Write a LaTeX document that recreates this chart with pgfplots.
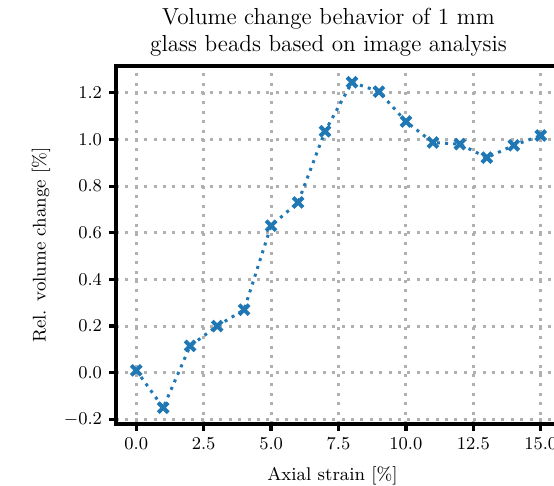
\documentclass[border=0pt]{standalone}
\usepackage{pgfplots}
\pgfplotsset{compat=1.18}
\definecolor{mplblue}{RGB}{31,119,180}
\definecolor{gridgray}{RGB}{176,176,176}
\begin{document}
\begin{tikzpicture}
\begin{axis}[
  scale only axis, width=222.5pt, height=179pt,
  xmin=-0.75, xmax=15.75, ymin=-0.22, ymax=1.315,
  xtick={0,2.5,5,7.5,10,12.5,15},
  ytick={-0.2,0,0.2,0.4,0.6,0.8,1.0,1.2},
  xticklabel style={/pgf/number format/.cd,fixed,fixed zerofill,precision=1},
  yticklabel style={/pgf/number format/.cd,fixed,fixed zerofill,precision=1},
  tick label style={font=\fontsize{9.2}{11}\selectfont},
  label style={font=\fontsize{9.2}{11}\selectfont},
  title style={font=\fontsize{11.6}{13.2}\selectfont, align=center, xshift=-5pt, yshift=-4.5pt},
  title={Volume change behavior of 1 mm\\glass beads based on image analysis},
  xlabel={Axial strain [\%]},
  xlabel style={xshift=-3pt, yshift=-1.5pt},
  ylabel={Rel. volume change [\%]},
  axis line style={line width=2pt, black},
  tick style={line width=1.6pt, black},
  tick align=outside, tick pos=left, major tick length=3.5pt,
  grid=major,
  major grid style={line width=1.5pt, gridgray, dash pattern=on 1.5pt off 3.2pt},
]
\addplot[mplblue, line width=1.5pt, dash pattern=on 1.5pt off 2.6pt,
  mark=x, mark size=3.5pt, mark options={solid, line width=2pt}]
  coordinates {
  (0,0.01) (1,-0.15) (2,0.115) (3,0.20) (4,0.27) (5,0.63) (6,0.73)
  (7,1.035) (8,1.245) (9,1.205) (10,1.077) (11,0.987) (12,0.98)
  (13,0.922) (14,0.975) (15,1.017)
  };
\end{axis}
\pgfresetboundingbox
\path[use as bounding box] ([xshift=-58pt,yshift=-30.5pt]current axis.south west) rectangle ([xshift=-3.5pt,yshift=33pt]current axis.north east);
\end{tikzpicture}
\end{document}
